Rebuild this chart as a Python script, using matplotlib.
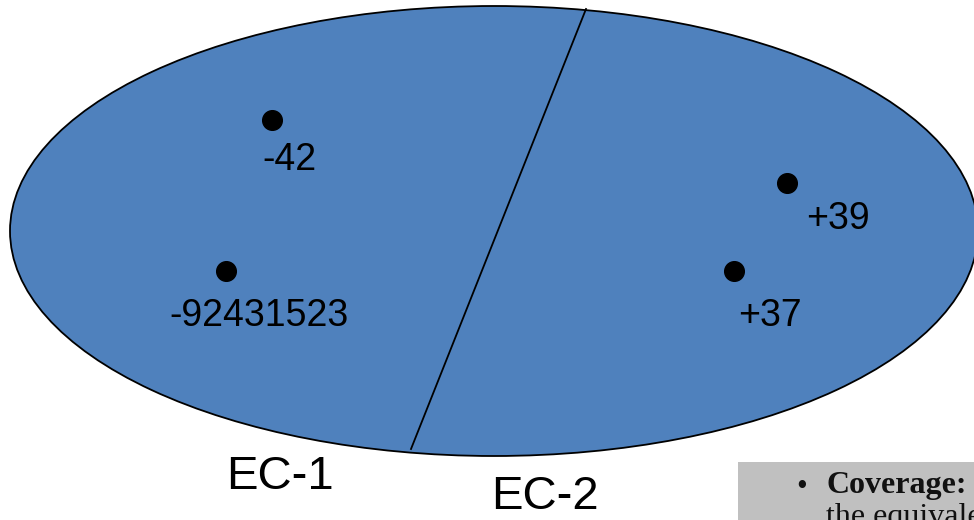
import matplotlib.pyplot as plt
from matplotlib.patches import Ellipse, Rectangle

# points inside the two halves (pixel space of the original picture)
point_x = [272, 226, 787, 734]
point_y = [120, 271, 183, 271]
point_labels = ["-42", "-92431523", "+39", "+37"]
label_x = [289, 259, 838, 770]
label_y = [160, 316, 219, 316]

region_names = ["EC-1", "EC-2"]
region_x = [280, 545]
region_y = [477, 497]

fig = plt.figure(figsize=(9.74, 5.2), dpi=100)
ax = fig.add_axes([0, 0, 1, 1])
ax.set_xlim(0, 974)
ax.set_ylim(520, 0)
ax.axis("off")

# the big ellipse split in two by a line
ell = Ellipse((494, 231), 968, 450, facecolor="#4f81bd", edgecolor="black", lw=1.3)
ax.add_patch(ell)
ax.plot([586, 411], [9, 449], color="black", lw=1.3)

ax.scatter(point_x, point_y, s=200, color="black", zorder=3)
for i in range(len(point_labels)):
    ax.text(label_x[i], label_y[i], point_labels[i], fontsize=27, family="Liberation Sans",
            ha="center", va="center", color="black")

for i in range(len(region_names)):
    ax.text(region_x[i], region_y[i], region_names[i], fontsize=34, family="Liberation Sans",
            ha="center", va="center", color="black")

# grey box with a bullet, cut off at the corner
box = Rectangle((738, 462), 240, 70, facecolor="#c0c0c0", edgecolor="none")
ax.add_patch(box)
t0 = ax.text(802, 487, "\u2022", fontsize=22, family="Liberation Serif",
             ha="center", va="center", color="#111111")
t1 = ax.text(826, 486, "Coverage:", fontsize=23, family="Liberation Serif",
             fontweight="bold", ha="left", va="center", color="#111111")
t2 = ax.text(826, 518, "the equivalent", fontsize=23, family="Liberation Serif",
             ha="left", va="center", color="#111111")
for t in (t0, t1, t2):
    t.set_clip_path(box)

plt.savefig("out.png", dpi=100)
